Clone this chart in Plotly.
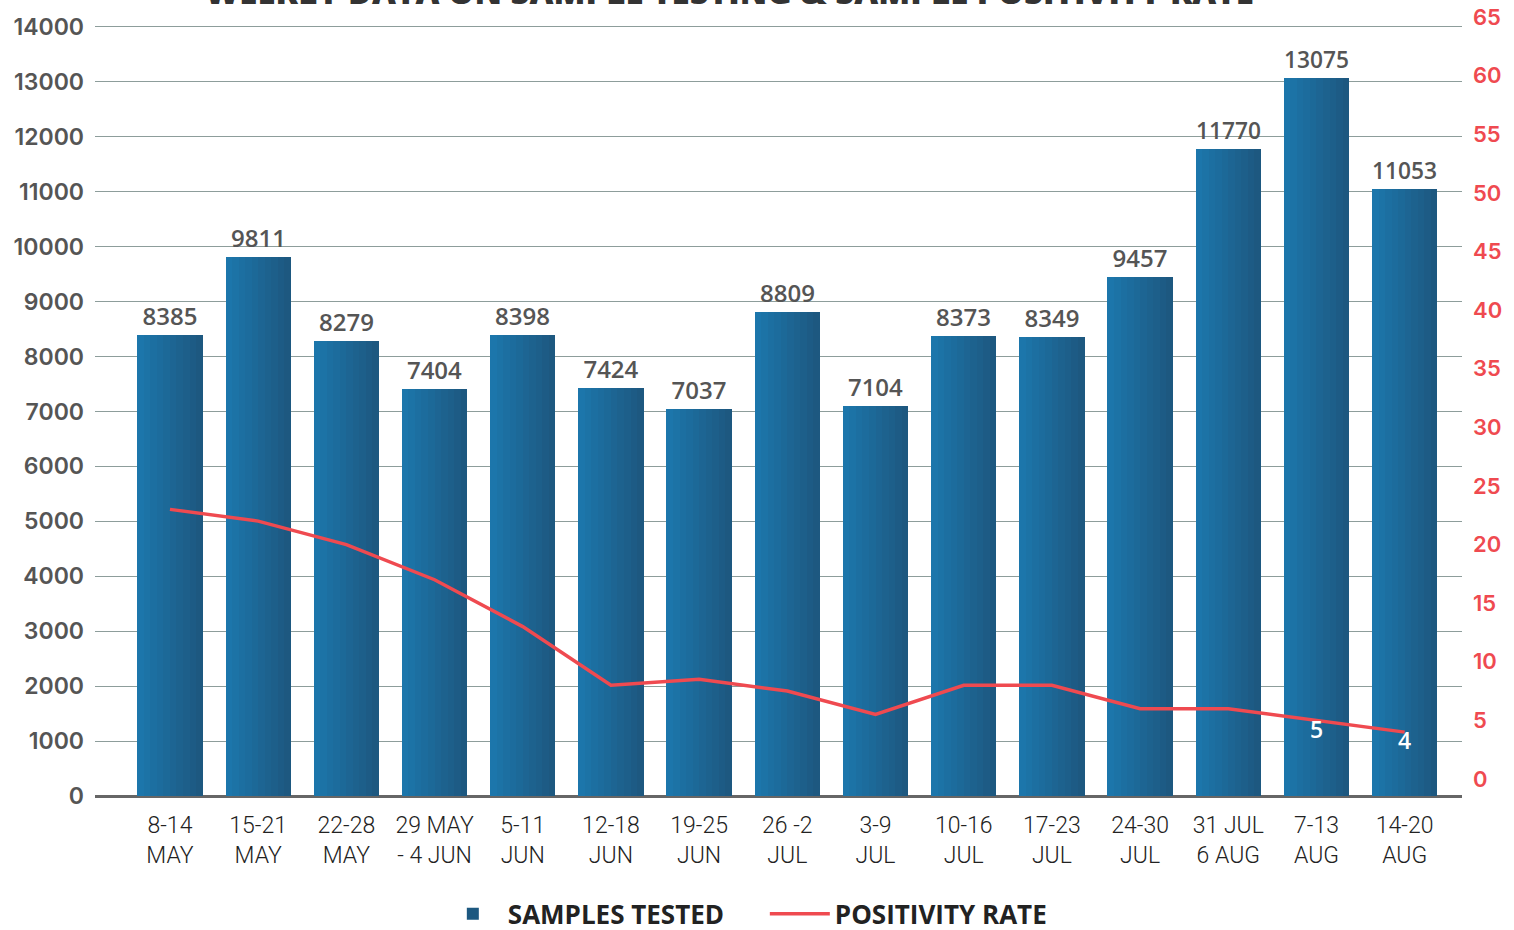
import plotly.graph_objects as go

weeks = ["8-14<br>MAY", "15-21<br>MAY", "22-28<br>MAY", "29 MAY<br>- 4 JUN", "5-11<br>JUN",
         "12-18<br>JUN", "19-25<br>JUN", "26 -2<br>JUL", "3-9<br>JUL", "10-16<br>JUL",
         "17-23<br>JUL", "24-30<br>JUL", "31 JUL<br>6 AUG", "7-13<br>AUG", "14-20<br>AUG"]
samples_tested = [8385, 9811, 8279, 7404, 8398, 7424, 7037, 8809, 7104, 8373, 8349, 9457, 11770, 13075, 11053]
positivity_rate = [23, 22, 20, 17, 13, 8, 8.5, 7.5, 5.5, 8, 8, 6, 6, 5, 4]
rate_labels = ["", "", "", "", "", "", "", "", "", "", "", "", "", "5", "4"]
left_ticks = list(range(0, 14001, 1000))
right_ticks = list(range(0, 66, 5))

x = list(range(len(weeks)))
fig = go.Figure()

# gradient-look bars: stacked overlays, narrowing from the left edge
W = 0.74
N = 10
dark = (29, 88, 128)
light = (28, 118, 171)
for k in range(N):
    t = k / (N - 1)
    c = tuple(round(dark[i] + (light[i] - dark[i]) * t) for i in range(3))
    w = W * (1 - k / N)
    fig.add_trace(go.Bar(
        x=x, y=samples_tested,
        width=[w] * len(x), offset=[-W / 2] * len(x),
        marker=dict(color="rgb(%d,%d,%d)" % c, line=dict(width=0)),
        name="SAMPLES TESTED", showlegend=(k == 0), legendrank=1,
        hoverinfo="skip" if k else None,
        text=[str(v) for v in samples_tested] if k == 0 else None,
        textposition="outside" if k == 0 else "none",
        textfont=dict(family="Open Sans", size=24, color="#555555", weight=600),
        cliponaxis=False,
    ))

fig.add_trace(go.Scatter(
    x=x, y=positivity_rate, yaxis="y2", mode="lines+text",
    line=dict(color="#ef4a50", width=3.5),
    text=rate_labels, textposition="bottom center",
    textfont=dict(family="Open Sans", size=23, color="white", weight=600),
    name="POSITIVITY RATE", legendrank=2, cliponaxis=False,
))

fig.add_annotation(
    text="WEEKLY DATA ON SAMPLE TESTING & SAMPLE POSITIVITY RATE",
    xref="paper", yref="paper", x=0.464, y=1.032, xanchor="center", yanchor="middle",
    showarrow=False, font=dict(family="Open Sans", size=33, color="#333333", weight=800),
)

fig.update_layout(
    width=1514, height=930,
    margin=dict(l=95, r=52, t=16, b=134, autoexpand=False),
    paper_bgcolor="white", plot_bgcolor="white",
    barmode="overlay", bargap=0,
    xaxis=dict(
        tickmode="array", tickvals=x, ticktext=weeks, range=[-0.85, 14.65],
        tickfont=dict(family="Roboto", size=23, color="#222222", weight=300),
        showgrid=False, ticks="", ticklabelstandoff=13, showline=False, zeroline=False,
        automargin=False,
    ),
    yaxis=dict(
        range=[0, 14200], tickvals=left_ticks, tickformat="d",
        tickfont=dict(family="Inter", size=23, color="#555555", weight=600),
        showgrid=True, gridcolor="#8d9d9b", gridwidth=1,
        zeroline=True, zerolinecolor="#666666", zerolinewidth=2.5,
        ticklabelstandoff=10, showline=False, automargin=False,
        ticklabeloverflow="allow",
    ),
    yaxis2=dict(
        overlaying="y", side="right", range=[-1.45, 65.09], tickvals=right_ticks,
        tickfont=dict(family="Inter", size=22, color="#ef4a50", weight=600),
        showgrid=False, zeroline=False, ticklabelstandoff=10, showline=False,
        automargin=False, ticklabeloverflow="allow",
    ),
    legend=dict(
        orientation="h", x=0.49, xanchor="center", y=-0.151, yanchor="middle",
        font=dict(family="Open Sans", size=26, color="#222222", weight=700),
        itemwidth=60, tracegroupgap=0, entrywidth=252,
    ),
    showlegend=True,
)

fig.write_html("out.html", config={"displayModeBar": False},
               post_script="document.body.style.margin='0';")
